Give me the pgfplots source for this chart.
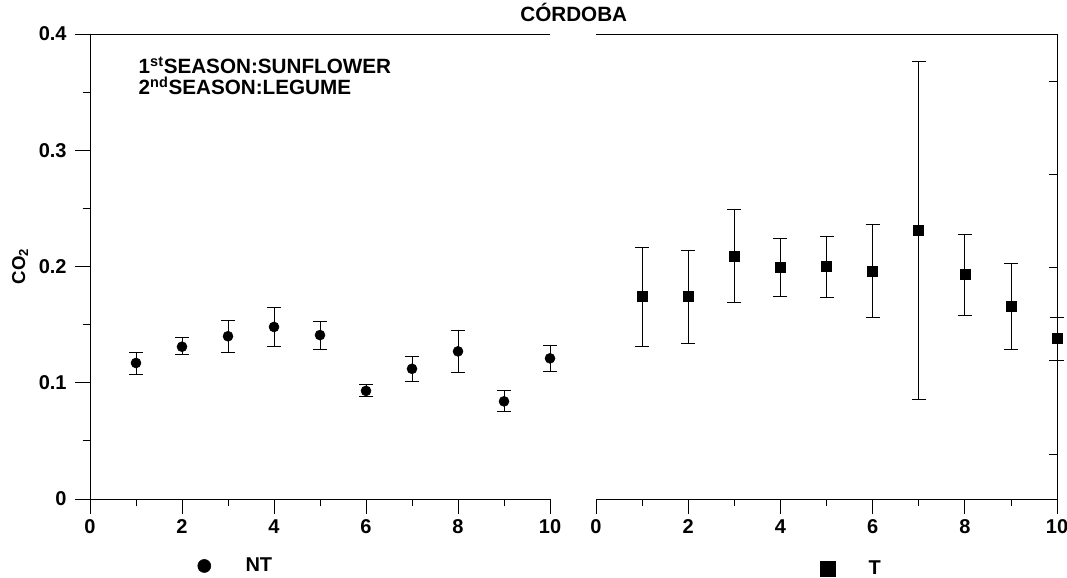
\documentclass[border=0pt]{standalone}
\usepackage{pgfplots}
\pgfplotsset{compat=1.18}
\usepackage{pgfplotstable}
\usepackage{fontspec}
\setmainfont{Liberation Sans}

\pgfplotstableread{
x y ep em
1 0.117 0.009 0.010
2 0.131 0.008 0.007
3 0.140 0.014 0.014
4 0.148 0.017 0.017
5 0.141 0.012 0.0125
6 0.093 0.006 0.005
7 0.112 0.011 0.011
8 0.127 0.018 0.018
9 0.084 0.009 0.009
10 0.121 0.011 0.011
}\NTdata

\pgfplotstableread{
x y ep em
1 0.174 0.042 0.043
2 0.174 0.040 0.040
3 0.209 0.040 0.040
4 0.199 0.025 0.025
5 0.200 0.026 0.027
6 0.196 0.040 0.040
7 0.231 0.145 0.145
8 0.193 0.035 0.035
9 0.166 0.037 0.037
10 0.138 0.0185 0.019
}\Tdata

\pgfplotsset{
  base/.style={
    scale only axis, height=348.75pt,
    xmin=0, xmax=10, ymin=0, ymax=0.4,
    clip=false,
    axis line style={-, black, line width=0.6pt},
    every tick/.style={black, line width=0.6pt},
    tick label style={font=\fontsize{15}{17}\selectfont\bfseries},
    yticklabel style={xshift=-3pt},
    xticklabel style={yshift=-1pt},
    /pgf/number format/assume math mode=true,
  },
}

\begin{document}
\begin{tikzpicture}
\path[use as bounding box] (0pt,0pt) rectangle (800.25pt,433.5pt);

% Left panel (NT)
\begin{axis}[base,
  at={(67.5pt,59.25pt)}, anchor=south west, width=345pt,
  axis x line*=bottom, axis y line*=left,
  tick align=outside,
  xtick={0,2,4,6,8,10}, minor xtick={1,3,5,7,9},
  ytick={0,0.1,0.2,0.3,0.4}, minor ytick={0.05,0.15,0.25,0.35},
  major tick length=11pt, minor tick length=5.5pt,
  ylabel={CO\textsubscript{2}},
  ylabel style={font=\fontsize{14}{16}\selectfont\bfseries, at={(axis description cs:-0.152,0.5)}, anchor=center},
  title={CÓRDOBA},
  title style={font=\fontsize{15.5}{18}\selectfont\bfseries, at={(axis description cs:1.0517,1.0086)}, anchor=base},
  legend style={at={(axis description cs:0.2337,-0.144)}, anchor=west, draw=none, fill=none, inner sep=0pt,
    font=\fontsize{15}{17}\selectfont\bfseries,
    /tikz/every odd column/.append style={column sep=24pt}},
  legend image code/.code={\draw[black, mark=*, mark size=4.9pt] plot coordinates {(0pt,0pt)};},
]
\draw[black, line width=0.6pt] (rel axis cs:0,1) -- (rel axis cs:1,1);
\addplot[black, only marks, mark=*, mark size=3.75pt,
  error bars/.cd, y dir=both, y explicit,
  error bar style={black, line width=0.6pt},
  error mark options={black, line width=0.6pt, mark size=5.25pt, rotate=90}]
  table[x=x, y=y, y error plus=ep, y error minus=em] {\NTdata};
\addlegendentry{NT}
\node[anchor=base west, font=\fontsize{15.5}{18}\selectfont\bfseries] at (axis description cs:0.0957,0.916) {1\textsuperscript{st}SEASON:SUNFLOWER};
\node[anchor=base west, font=\fontsize{15.5}{18}\selectfont\bfseries] at (axis description cs:0.0957,0.869) {2\textsuperscript{nd}SEASON:LEGUME};
\end{axis}

% Right panel (T)
\begin{axis}[base,
  at={(447pt,59.25pt)}, anchor=south west, width=345.75pt,
  axis x line*=bottom, axis y line=none,
  tick align=outside,
  xtick={0,2,4,6,8,10}, minor xtick={1,3,5,7,9},
  major tick length=11pt, minor tick length=5.5pt,
  legend style={at={(axis description cs:0.486,-0.150)}, anchor=west, draw=none, fill=none, inner sep=0pt,
    font=\fontsize{15}{17}\selectfont\bfseries,
    /tikz/every odd column/.append style={column sep=23pt}},
  legend image code/.code={\draw[black, mark=square*, mark size=5.6pt] plot coordinates {(0pt,0pt)};},
]
\draw[black, line width=0.6pt] (rel axis cs:0,1) -- (rel axis cs:1,1);
\addplot[black, only marks, mark=square*, mark size=3.75pt,
  error bars/.cd, y dir=both, y explicit,
  error bar style={black, line width=0.6pt},
  error mark options={black, line width=0.6pt, mark size=5.25pt, rotate=90}]
  table[x=x, y=y, y error plus=ep, y error minus=em] {\Tdata};
\addlegendentry{T}
\end{axis}

% Right-hand axis of right panel
\begin{axis}[base,
  at={(447pt,59.25pt)}, anchor=south west, width=345.75pt,
  axis x line=none, axis y line*=right,
  tick align=inside,
  ytick={0.0386,0.1193,0.1991,0.2790,0.3588}, yticklabels={},
  major tick length=6pt,
]
\end{axis}
\end{tikzpicture}
\end{document}
